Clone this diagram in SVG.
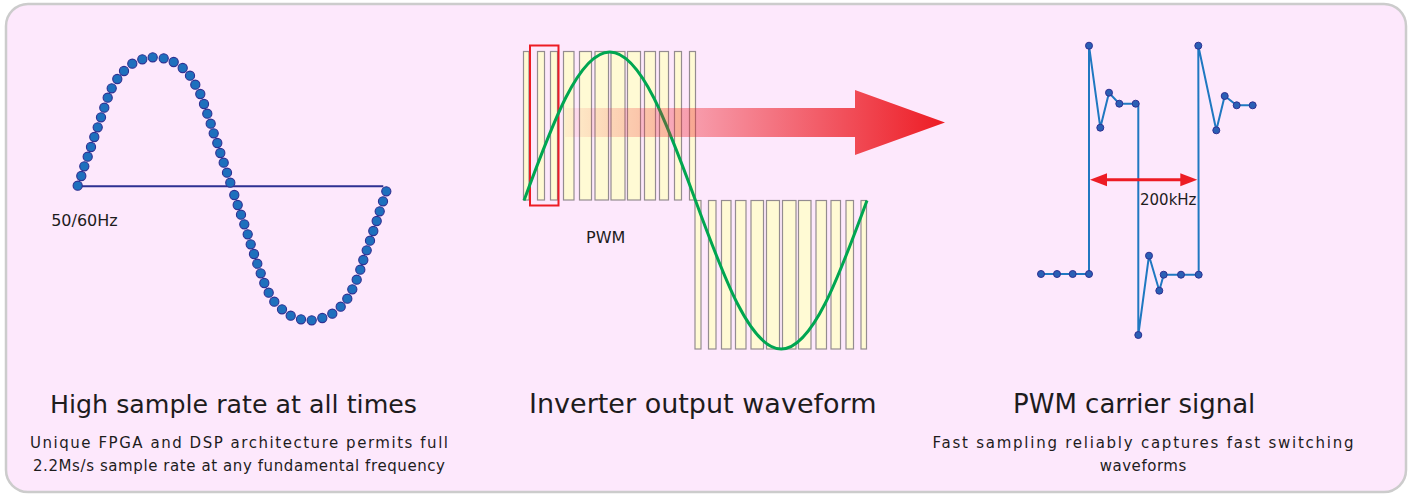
<svg xmlns="http://www.w3.org/2000/svg" width="1411" height="496" viewBox="0 0 1411 496">
<style>
.t{font-family:"DejaVu Sans",Verdana,"Liberation Sans",sans-serif;fill:#1e1c1d}
.title{font-size:25.3px}
.sub{font-size:15px}
.lbl{font-size:16px}
.sd{fill:#1e70bd;stroke:#2e3192;stroke-width:1.1}
.bar{fill:#fffad4;stroke:#948c90;stroke-width:1.2}
.cd{fill:#2a5fb5;stroke:#2e3192;stroke-width:1}
</style>
<defs>
<linearGradient id="ag" gradientUnits="userSpaceOnUse" x1="565" y1="0" x2="945" y2="0">
<stop offset="0" stop-color="#ed1c24" stop-opacity="0.05"/>
<stop offset="1" stop-color="#ed1c24" stop-opacity="1"/>
</linearGradient>
</defs>
<rect x="6" y="4" width="1400" height="488" rx="22" ry="22" fill="#fde8fc" stroke="#cccccc" stroke-width="2.5"/>

<g id="panel-left">
<line x1="78" y1="186.3" x2="383.3" y2="186.3" stroke="#2e3192" stroke-width="2"/>
<g>
<circle class="sd" cx="77.7" cy="185.7" r="4.6"/><circle class="sd" cx="81.3" cy="176" r="4.6"/><circle class="sd" cx="84.3" cy="166.3" r="4.6"/><circle class="sd" cx="87.7" cy="156.7" r="4.6"/><circle class="sd" cx="91" cy="147" r="4.6"/><circle class="sd" cx="94.3" cy="137" r="4.6"/><circle class="sd" cx="97.7" cy="127.3" r="4.6"/><circle class="sd" cx="101" cy="117.3" r="4.6"/><circle class="sd" cx="104.3" cy="107.7" r="4.6"/><circle class="sd" cx="107.7" cy="97.7" r="4.6"/><circle class="sd" cx="111.7" cy="88.3" r="4.6"/><circle class="sd" cx="117.3" cy="79" r="4.6"/><circle class="sd" cx="124" cy="71" r="4.6"/><circle class="sd" cx="132.3" cy="63.7" r="4.6"/><circle class="sd" cx="142.3" cy="59.3" r="4.6"/><circle class="sd" cx="152.7" cy="57.3" r="4.6"/><circle class="sd" cx="163.7" cy="58.3" r="4.6"/><circle class="sd" cx="173.7" cy="62" r="4.6"/><circle class="sd" cx="182.7" cy="68" r="4.6"/><circle class="sd" cx="190" cy="75.7" r="4.6"/><circle class="sd" cx="195.3" cy="84.7" r="4.6"/><circle class="sd" cx="200.3" cy="94" r="4.6"/><circle class="sd" cx="204" cy="104" r="4.6"/><circle class="sd" cx="207.3" cy="113.7" r="4.6"/><circle class="sd" cx="210.7" cy="123.7" r="4.6"/><circle class="sd" cx="213.7" cy="133.3" r="4.6"/><circle class="sd" cx="217.3" cy="143" r="4.6"/><circle class="sd" cx="220.3" cy="153" r="4.6"/><circle class="sd" cx="223.7" cy="162.7" r="4.6"/><circle class="sd" cx="227" cy="172.7" r="4.6"/><circle class="sd" cx="230.3" cy="182.7" r="4.6"/>
<circle class="sd" cx="234.3" cy="195" r="4.6"/><circle class="sd" cx="237.7" cy="205" r="4.6"/><circle class="sd" cx="241" cy="214.7" r="4.6"/><circle class="sd" cx="244.3" cy="224.3" r="4.6"/><circle class="sd" cx="247.7" cy="234.3" r="4.6"/><circle class="sd" cx="250.7" cy="244.3" r="4.6"/><circle class="sd" cx="254" cy="254" r="4.6"/><circle class="sd" cx="257.3" cy="263.7" r="4.6"/><circle class="sd" cx="260.7" cy="273.3" r="4.6"/><circle class="sd" cx="264.3" cy="283" r="4.6"/><circle class="sd" cx="268.7" cy="292.7" r="4.6"/><circle class="sd" cx="274.3" cy="301.7" r="4.6"/><circle class="sd" cx="282" cy="309.3" r="4.6"/><circle class="sd" cx="290.7" cy="315.7" r="4.6"/><circle class="sd" cx="301" cy="319.3" r="4.6"/><circle class="sd" cx="311.7" cy="320.3" r="4.6"/><circle class="sd" cx="322.3" cy="318" r="4.6"/><circle class="sd" cx="332.3" cy="313.7" r="4.6"/><circle class="sd" cx="340.7" cy="306.7" r="4.6"/><circle class="sd" cx="347.3" cy="298.7" r="4.6"/><circle class="sd" cx="352.3" cy="289.3" r="4.6"/><circle class="sd" cx="356.7" cy="279.7" r="4.6"/><circle class="sd" cx="360.3" cy="269.7" r="4.6"/><circle class="sd" cx="363.3" cy="260" r="4.6"/><circle class="sd" cx="366.7" cy="250.3" r="4.6"/><circle class="sd" cx="370" cy="240.7" r="4.6"/><circle class="sd" cx="373.3" cy="231" r="4.6"/><circle class="sd" cx="376.7" cy="221" r="4.6"/><circle class="sd" cx="379.7" cy="211.3" r="4.6"/><circle class="sd" cx="383" cy="201.3" r="4.6"/><circle class="sd" cx="386.3" cy="191.3" r="4.6"/>
</g>
<text class="t lbl" x="51.2" y="225.7">50/60Hz</text>
<text class="t title" x="50" y="413">High sample rate at all times</text>
<text class="t sub" x="239" y="448" text-anchor="middle" textLength="418" lengthAdjust="spacing">Unique FPGA and DSP architecture permits full</text>
<text class="t sub" x="239" y="470.5" text-anchor="middle" textLength="412" lengthAdjust="spacing">2.2Ms/s sample rate at any fundamental frequency</text>
</g>

<g id="panel-center">
<g>
<rect class="bar" x="523.5" y="51.5" width="5.5" height="148.5"/>
<rect class="bar" x="537.5" y="51.5" width="7" height="148.5"/>
<rect class="bar" x="550.5" y="51.5" width="7" height="148.5"/>
<rect class="bar" x="563.5" y="51.5" width="10.5" height="148.5"/>
<rect class="bar" x="579.5" y="51.5" width="12" height="148.5"/>
<rect class="bar" x="595" y="51.5" width="13.5" height="148.5"/>
<rect class="bar" x="611" y="51.5" width="14" height="148.5"/>
<rect class="bar" x="627.5" y="51.5" width="13" height="148.5"/>
<rect class="bar" x="644.5" y="51.5" width="11" height="148.5"/>
<rect class="bar" x="659.5" y="51.5" width="9" height="148.5"/>
<rect class="bar" x="674.5" y="51.5" width="7" height="148.5"/>
<rect class="bar" x="689.5" y="51.5" width="6" height="148.5"/>
<rect class="bar" x="695" y="200.5" width="6" height="148.5"/>
<rect class="bar" x="708.5" y="200.5" width="7.5" height="148.5"/>
<rect class="bar" x="721.5" y="200.5" width="9.5" height="148.5"/>
<rect class="bar" x="735.5" y="200.5" width="10.5" height="148.5"/>
<rect class="bar" x="751" y="200.5" width="12.5" height="148.5"/>
<rect class="bar" x="766.5" y="200.5" width="13" height="148.5"/>
<rect class="bar" x="782.5" y="200.5" width="13.5" height="148.5"/>
<rect class="bar" x="798.5" y="200.5" width="12.5" height="148.5"/>
<rect class="bar" x="816" y="200.5" width="10.5" height="148.5"/>
<rect class="bar" x="831" y="200.5" width="9.5" height="148.5"/>
<rect class="bar" x="846" y="200.5" width="7.5" height="148.5"/>
<rect class="bar" x="861" y="200.5" width="5.5" height="148.5"/>
</g>
<rect x="530" y="45.5" width="28.5" height="160" fill="none" stroke="#ed1c24" stroke-width="2"/>
<path d="M524,200.5 C551.97,124.42 578.72,52 609.75,52 C640.78,52 667.53,124.42 695.5,200.5 C723.47,276.58 750.22,349 781.25,349 C812.28,349 839.03,276.58 867,200.5" fill="none" stroke="#00a651" stroke-width="3"/>
<text class="t lbl" x="586" y="243.3">PWM</text>
<text class="t title" x="529" y="413" style="font-size:27px">Inverter output waveform</text>
</g>

<g id="panel-right">
<polyline points="1041,274 1057,274 1072.7,274 1089,274 1089,45.7 1100.3,127.7 1109,92.7 1119.3,103.7 1135.7,103.7 1138.3,103.7 1138.3,335 1149,255.7 1159.3,290.7 1163.7,274.7 1181,274.7 1198.7,274.7 1198.3,45.7 1216.3,130.3 1224.7,96 1236.7,105.3 1252.7,105.3" fill="none" stroke="#1f78c1" stroke-width="2"/>
<g>
<circle class="cd" cx="1041" cy="274" r="3.5"/><circle class="cd" cx="1057" cy="274" r="3.5"/><circle class="cd" cx="1072.7" cy="274" r="3.5"/><circle class="cd" cx="1089" cy="274" r="3.5"/><circle class="cd" cx="1089" cy="45.7" r="3.5"/><circle class="cd" cx="1100.3" cy="127.7" r="3.5"/><circle class="cd" cx="1109" cy="92.7" r="3.5"/><circle class="cd" cx="1119.3" cy="103.7" r="3.5"/><circle class="cd" cx="1135.7" cy="103.7" r="3.5"/><circle class="cd" cx="1138.3" cy="335" r="3.5"/><circle class="cd" cx="1149" cy="255.7" r="3.5"/><circle class="cd" cx="1159.3" cy="290.7" r="3.5"/><circle class="cd" cx="1163.7" cy="274.7" r="3.5"/><circle class="cd" cx="1181" cy="274.7" r="3.5"/><circle class="cd" cx="1198.7" cy="274.7" r="3.5"/><circle class="cd" cx="1198.3" cy="45.7" r="3.5"/><circle class="cd" cx="1216.3" cy="130.3" r="3.5"/><circle class="cd" cx="1224.7" cy="96" r="3.5"/><circle class="cd" cx="1236.7" cy="105.3" r="3.5"/><circle class="cd" cx="1252.7" cy="105.3" r="3.5"/>
</g>
<text class="t" x="1140" y="205" style="font-size:15px">200kHz</text>
<text class="t title" x="1013" y="413" style="font-size:26px">PWM carrier signal</text>
<text class="t sub" x="1143" y="448" text-anchor="middle" textLength="421" lengthAdjust="spacing">Fast sampling reliably captures fast switching</text>
<text class="t sub" x="1143" y="470.5" text-anchor="middle" textLength="86.7" lengthAdjust="spacing">waveforms</text>
</g>

<g id="connectors">
<polygon points="565,108 855,108 855,90 945,122.5 855,155 855,137 565,137" fill="url(#ag)"/>
<g fill="#ed1c24">
<line x1="1104" y1="179.7" x2="1183" y2="179.7" stroke="#ed1c24" stroke-width="3"/>
<polygon points="1090,179.7 1107,173.2 1107,186.2"/>
<polygon points="1197.3,179.7 1180.3,173.2 1180.3,186.2"/>
</g>
</g>
</svg>
